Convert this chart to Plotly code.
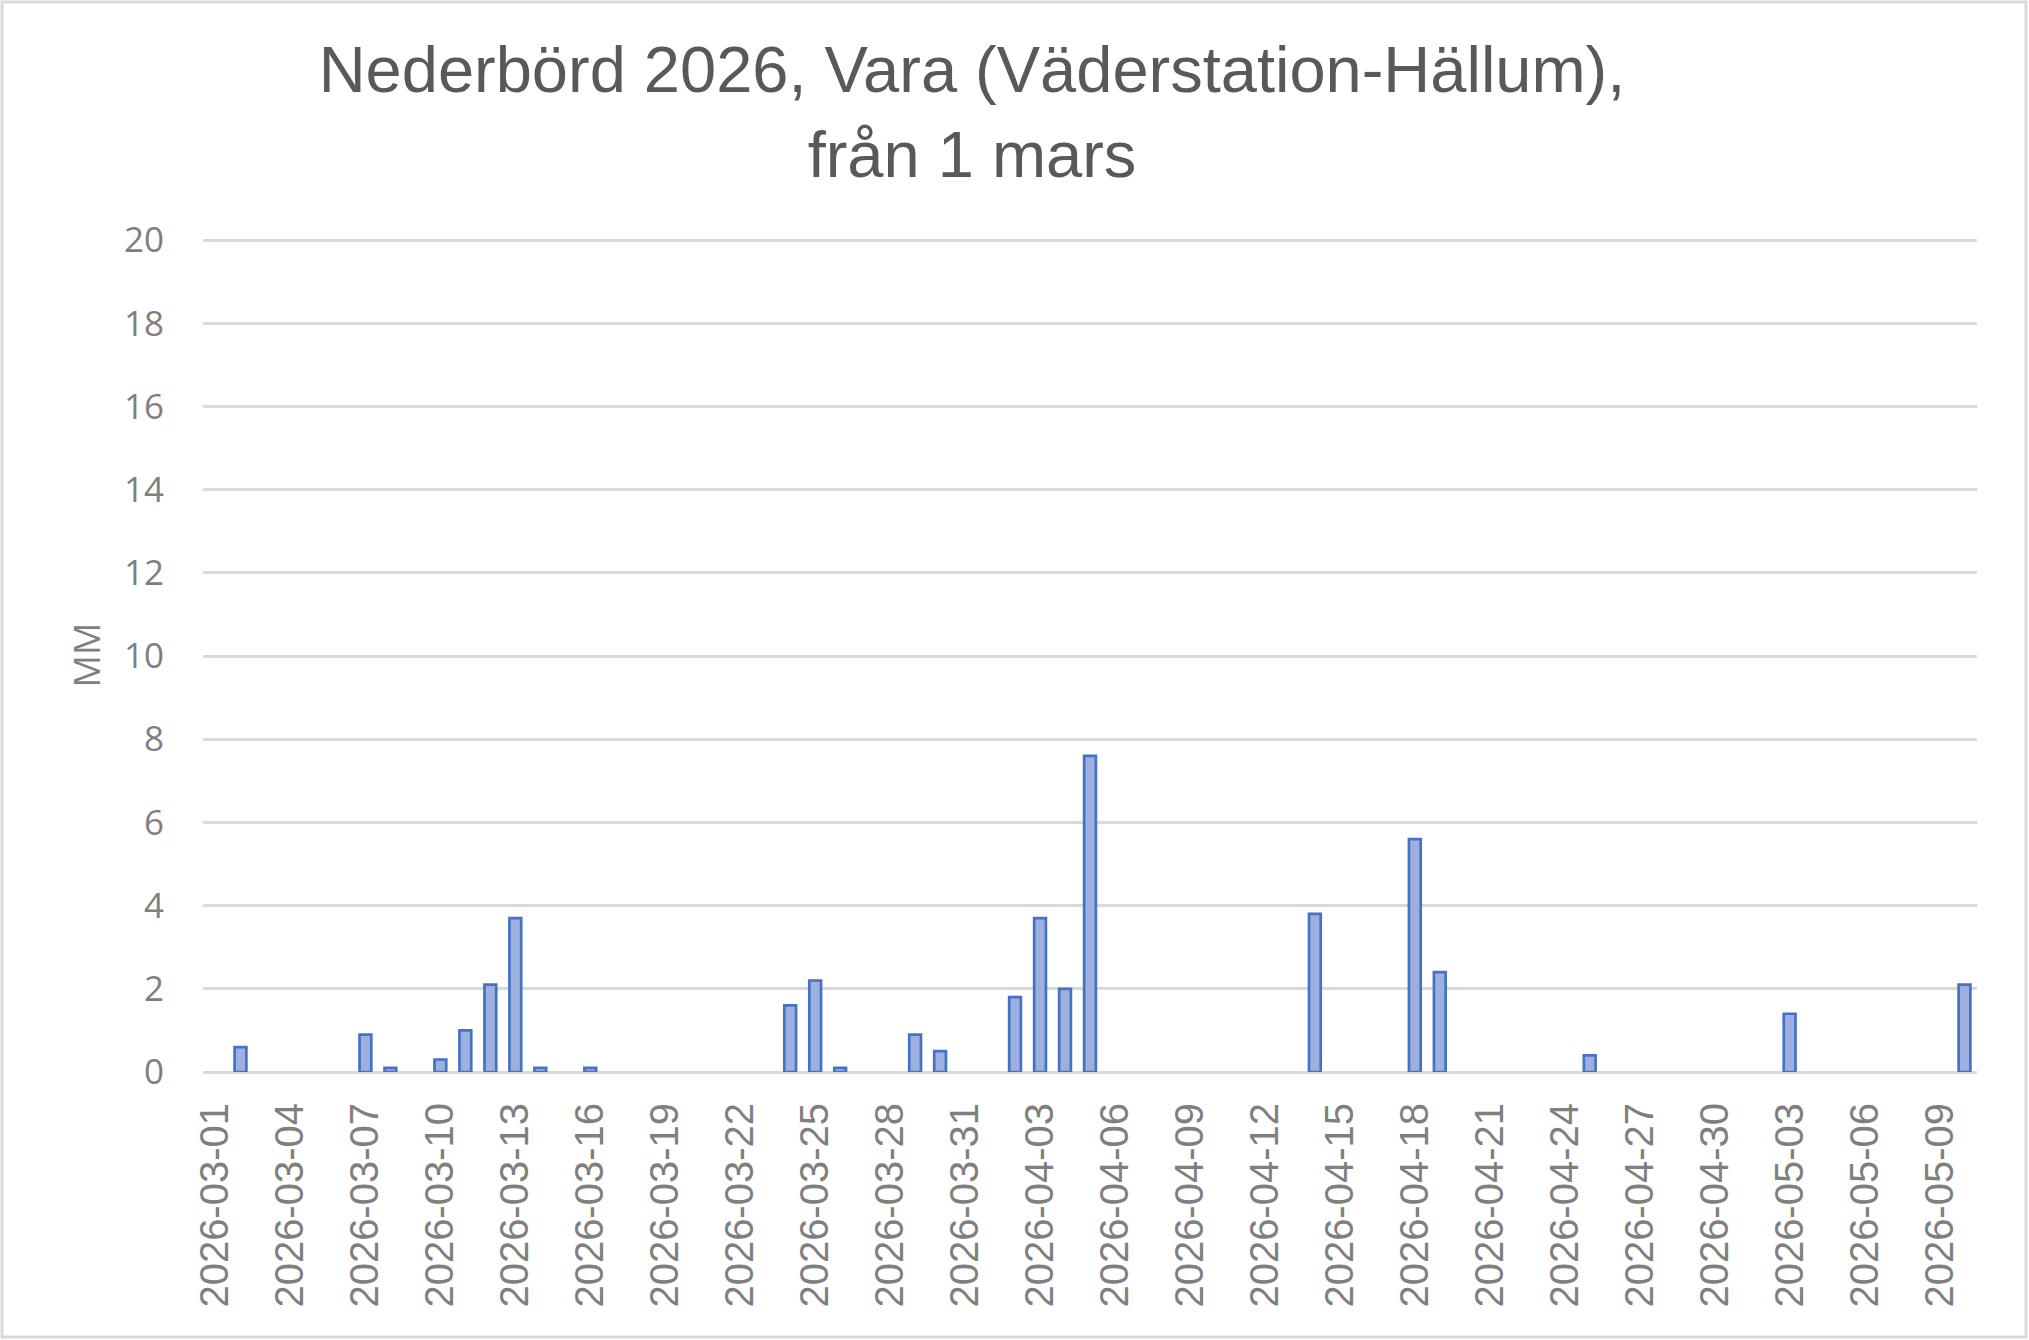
import pandas as pd
import plotly.graph_objects as go

# ---- data ----
dates = [d.strftime("%Y-%m-%d") for d in pd.date_range("2026-03-01", "2026-05-10", freq="D")]
precip_mm = [
    0, 0.6, 0, 0, 0, 0, 0.9, 0.1, 0, 0.3,      # 03-01 .. 03-10
    1.0, 2.1, 3.7, 0.1, 0, 0.1, 0, 0, 0, 0,    # 03-11 .. 03-20
    0, 0, 0, 1.6, 2.2, 0.1, 0, 0, 0.9, 0.5,    # 03-21 .. 03-30
    0, 0, 1.8, 3.7, 2.0, 7.6, 0, 0, 0, 0,      # 03-31 .. 04-09
    0, 0, 0, 0, 3.8, 0, 0, 0, 5.6, 2.4,        # 04-10 .. 04-19
    0, 0, 0, 0, 0, 0.4, 0, 0, 0, 0,            # 04-20 .. 04-29
    0, 0, 0, 1.4, 0, 0, 0, 0, 0, 0,            # 04-30 .. 05-09
    2.1,                                       # 05-10
]
tick_labels = dates[::3]
y_ticks = [0, 2, 4, 6, 8, 10, 12, 14, 16, 18, 20]

title_text = "Nederbörd 2026, Vara (Väderstation-Hällum),<br>från 1 mars"
y_title = "MM"

# zero-precipitation days draw no bar (as in the reference)
bar_values = [v if v != 0 else None for v in precip_mm]

# ---- layout numbers ----
W, H = 2029, 1340
ML, MR, MT, MB = 203, 52, 238, 268
pw = W - ML - MR
ph = H - MT - MB

fig = go.Figure(
    go.Bar(
        x=dates,
        y=bar_values,
        marker=dict(color="#9DB0DF", line=dict(color="#4472C4", width=2.7)),
        hoverinfo="x+y",
    )
)

fig.update_layout(
    width=W,
    height=H,
    margin=dict(l=ML, r=MR, t=MT, b=MB, pad=0),
    paper_bgcolor="white",
    plot_bgcolor="white",
    bargap=0.53,
    showlegend=False,
    title=dict(
        text=title_text,
        x=972 / W,
        xanchor="center",
        xref="container",
        y=1 - 92 / H,
        yanchor="top",
        yref="container",
        font=dict(family="Liberation Sans, Arial, sans-serif", size=65, color="#595959"),
    ),
    xaxis=dict(
        type="category",
        tickmode="array",
        tickvals=tick_labels,
        ticktext=tick_labels,
        tickangle=-90,
        tickfont=dict(family="Liberation Sans, Arial, sans-serif", size=40, color="#7F7F7F"),
        showgrid=False,
        showline=False,
        zeroline=False,
        ticks="",
        ticklabelstandoff=22,
        range=[-0.5, len(dates) - 0.5],
    ),
    yaxis=dict(
        range=[0, 20.05],
        tickmode="array",
        tickvals=y_ticks,
        tickfont=dict(family="Open Sans, Noto Sans, sans-serif", size=35, color="#7F7F7F"),
        showgrid=True,
        gridcolor="#D9D9D9",
        gridwidth=2.6,
        zeroline=True,
        zerolinecolor="#D9D9D9",
        zerolinewidth=2.6,
        showline=False,
        ticks="",
        ticklabelstandoff=38,
        title=dict(
            text=y_title,
            font=dict(family="Open Sans, Noto Sans, sans-serif", size=36, color="#7F7F7F"),
            standoff=12,
        ),
    ),
    shapes=[
        dict(
            type="rect",
            xref="paper",
            yref="paper",
            x0=(-ML + 2) / pw,
            x1=1 + (MR - 3) / pw,
            y0=-(MB - 3) / ph,
            y1=1 + (MT - 2) / ph,
            line=dict(color="#D9D9D9", width=3),
            fillcolor="rgba(0,0,0,0)",
            layer="below",
        )
    ],
)

fig.write_html(
    "out.html",
    config={"displayModeBar": False},
    post_script="document.body.style.margin='0';document.body.style.overflow='hidden';",
)
